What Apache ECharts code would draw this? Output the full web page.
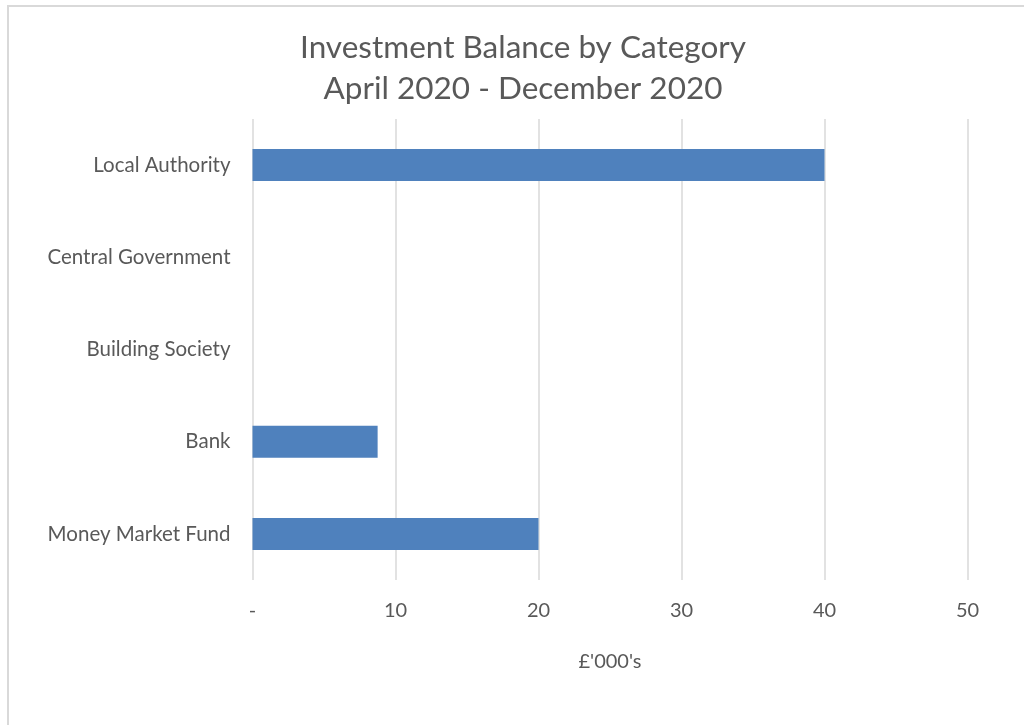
<!DOCTYPE html>
<html>
<head>
<meta charset="utf-8">
<script src="https://cdn.jsdelivr.net/npm/echarts@6/dist/echarts.min.js"></script>
<style>
  html, body { margin: 0; padding: 0; background: #fff; }
  #frame { position: absolute; left: 7px; top: 5px; width: 1100px; height: 800px;
           border: 2px solid #d9d9d9; box-sizing: border-box; }
  #chart { position: absolute; left: 0; top: 0; width: 1024px; height: 725px; }
</style>
</head>
<body>
<div id="frame"></div>
<div id="chart"></div>
<script>
// categories, bottom to top as echarts draws a category y axis
var categories = ['Money Market Fund', 'Bank', 'Building Society', 'Central Government', 'Local Authority'];
var balances = [20, 8.75, 0, 0, 40];
var titleLines = ['Investment Balance by Category', 'April 2020 - December 2020'];
var xAxisName = "£'000's";

var chart = echarts.init(document.getElementById('chart'), null, {renderer: 'canvas'});
chart.setOption({
  animation: false,
  title: {
    text: titleLines.join('\n'),
    left: 518,
    textAlign: 'center',
    top: 22,
    textStyle: {
      color: '#595959',
      fontFamily: 'Lato',
      fontWeight: 'normal',
      fontSize: 31.5,
      lineHeight: 41
    }
  },
  grid: {
    left: 252.5,
    right: 56.5,
    top: 119,
    bottom: 145
  },
  xAxis: {
    type: 'value',
    min: 0,
    max: 50,
    interval: 10,
    name: xAxisName,
    nameLocation: 'middle',
    nameGap: 72,
    nameTextStyle: { color: '#595959', fontFamily: 'Lato', fontSize: 20 },
    axisLine: { show: false },
    axisTick: { show: false },
    axisLabel: {
      color: '#595959',
      fontFamily: 'Lato',
      fontSize: 20,
      margin: 21,
      formatter: function (v) { return v === 0 ? '-' : String(v); }
    },
    splitLine: { lineStyle: { color: '#d9d9d9', width: 1.5 } }
  },
  yAxis: {
    type: 'category',
    data: categories,
    axisLine: { show: false },
    axisTick: { show: false },
    axisLabel: {
      color: '#595959',
      fontFamily: 'Lato',
      fontSize: 20.5,
      margin: 22
    }
  },
  series: [{
    type: 'bar',
    data: balances,
    barWidth: 32,
    itemStyle: { color: '#4f81bd' }
  }]
});
</script>
</body>
</html>
